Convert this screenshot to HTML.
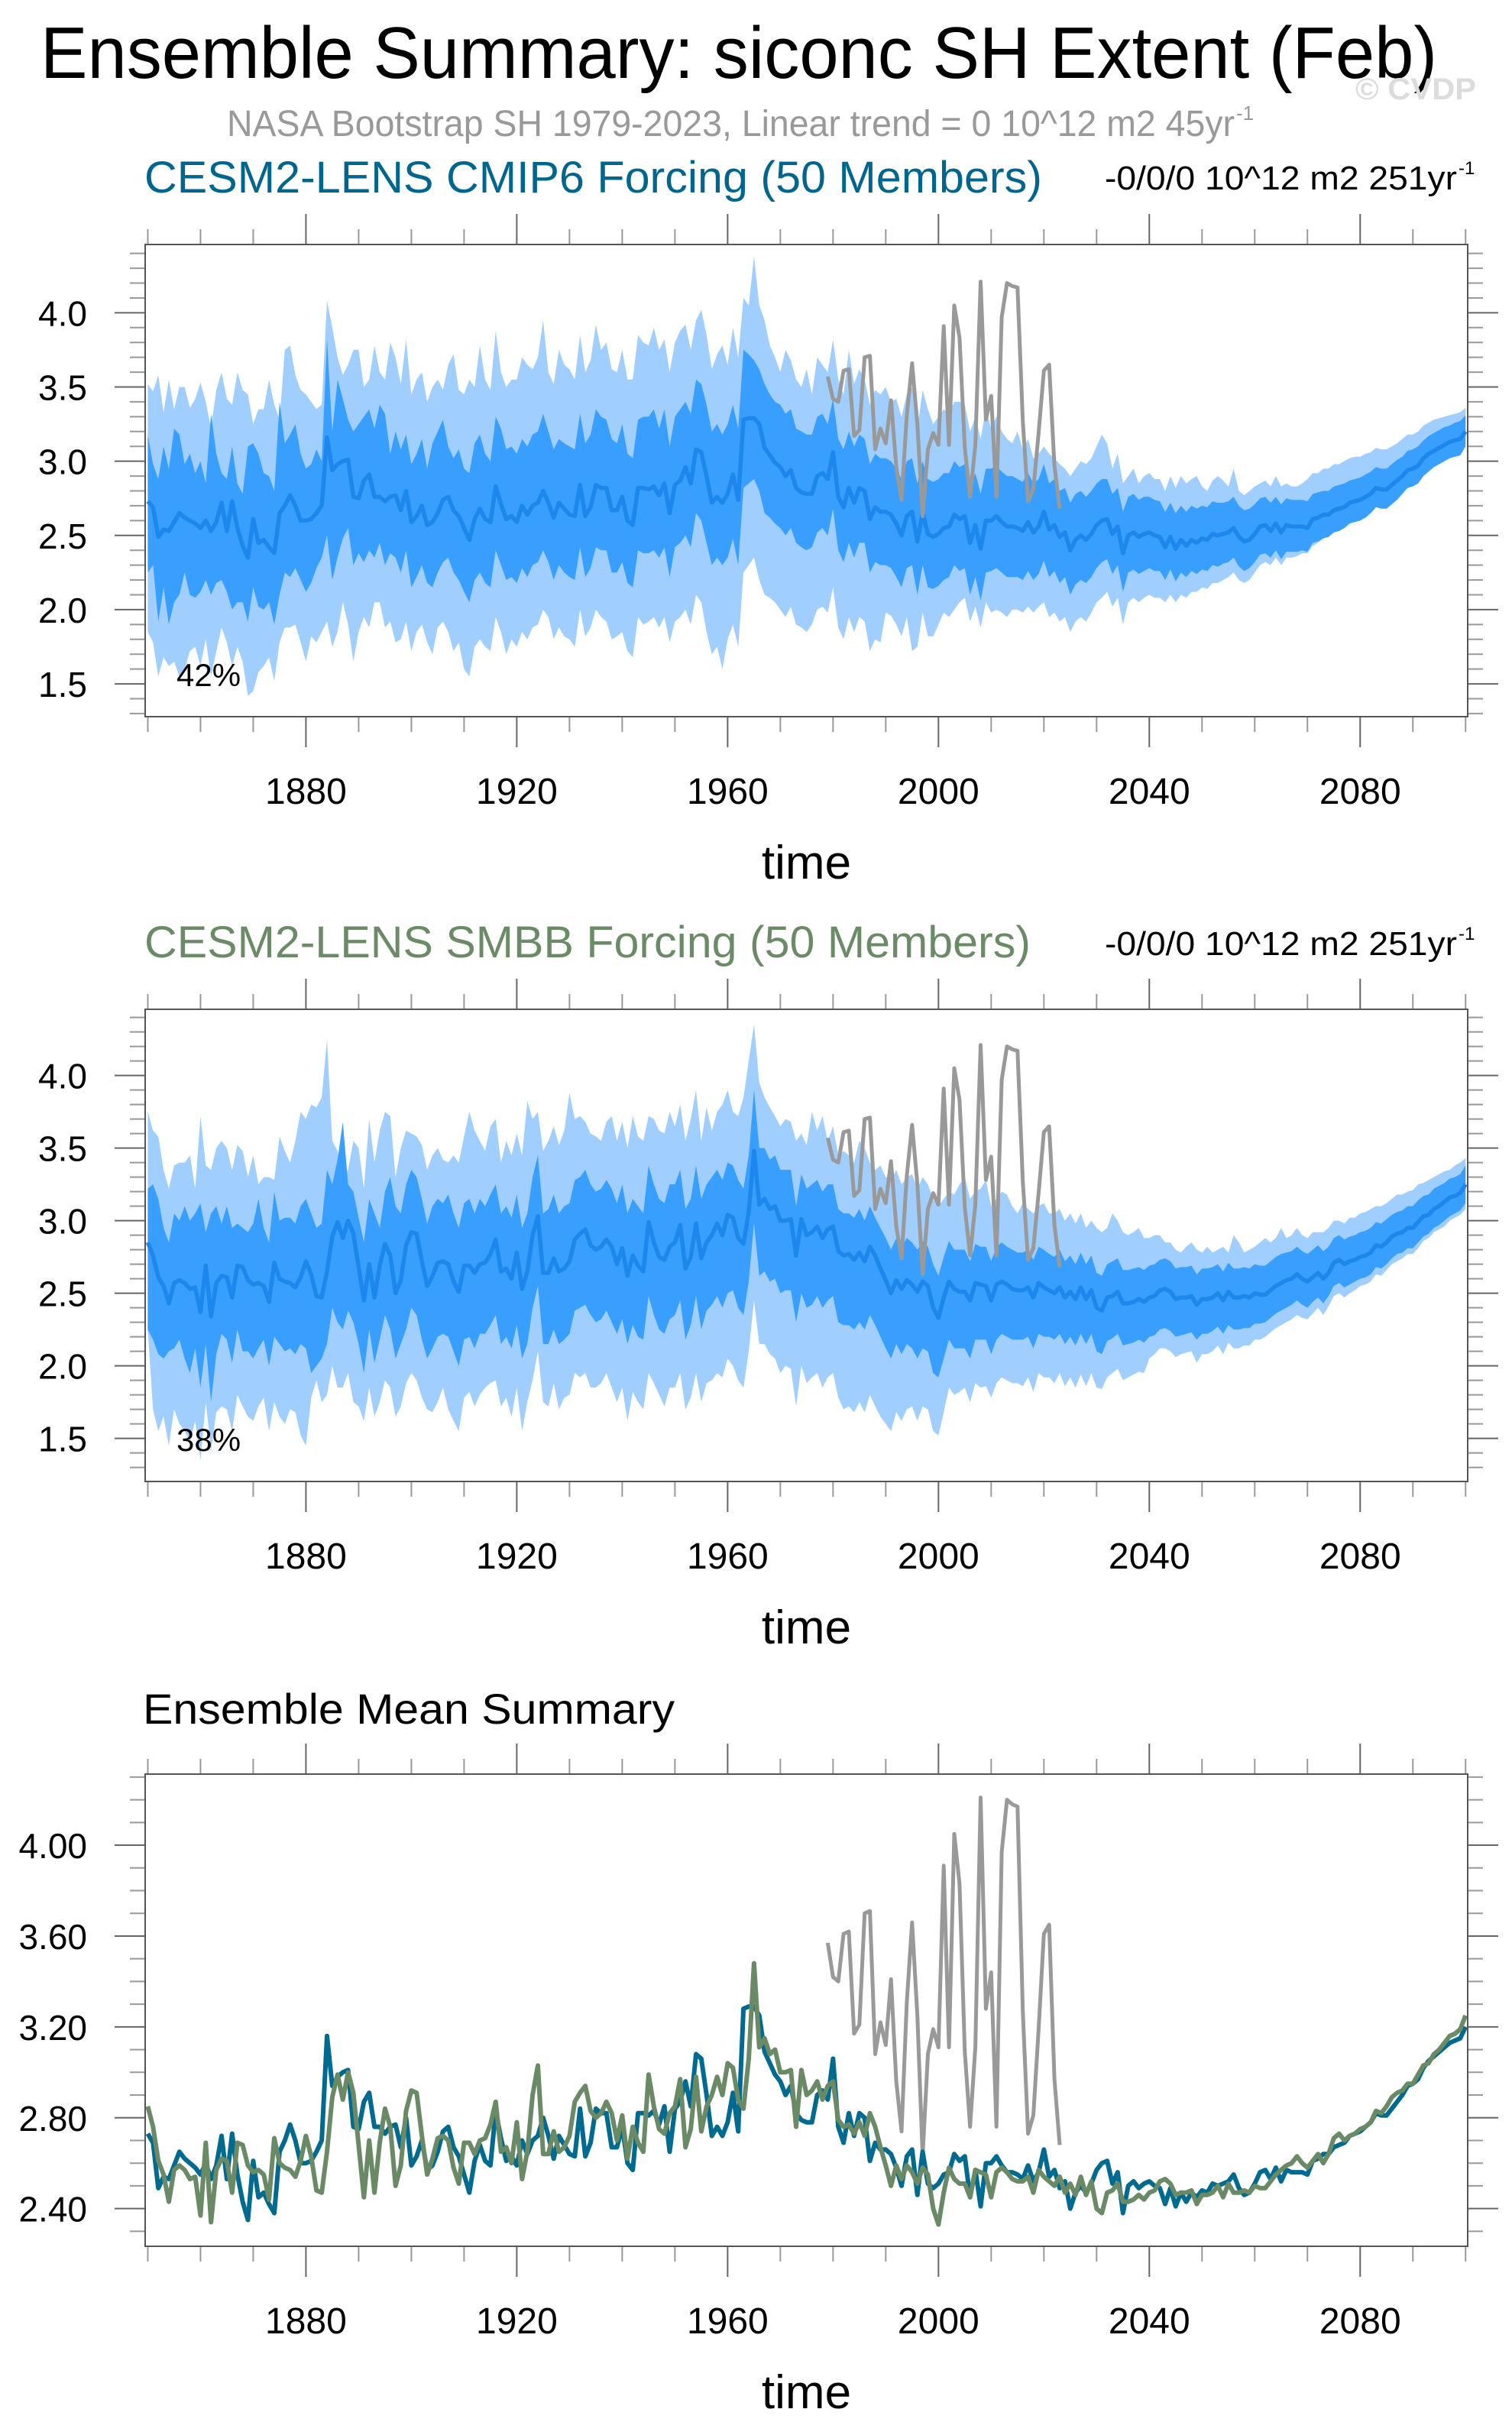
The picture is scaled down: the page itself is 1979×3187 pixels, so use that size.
<!DOCTYPE html>
<html><head><meta charset="utf-8"><title>Ensemble Summary: siconc SH Extent (Feb)</title>
<style>
html,body{margin:0;padding:0;background:#fff;}
svg{display:block;font-family:"Liberation Sans",Arial,sans-serif;}
</style></head>
<body>
<svg id="chart" width="1979" height="3187" viewBox="0 0 1979 3187" xmlns="http://www.w3.org/2000/svg">
<text x="53" y="102" font-size="96" textLength="1828" lengthAdjust="spacingAndGlyphs" fill="#000">Ensemble Summary: siconc SH Extent (Feb)</text>
<text x="1774" y="130" font-size="40" font-weight="bold" fill="#dcdcdc" textLength="158" lengthAdjust="spacingAndGlyphs">© CVDP</text>
<text x="297" y="178" font-size="48" fill="#999" textLength="1319" lengthAdjust="spacingAndGlyphs">NASA Bootstrap SH 1979-2023, Linear trend = 0 10^12 m2 45yr</text>
<text x="1618" y="157" font-size="26" fill="#999">-1</text>

<text x="189" y="252" font-size="58" fill="#00668f" textLength="1175" lengthAdjust="spacingAndGlyphs">CESM2-LENS CMIP6 Forcing (50 Members)</text>
<text x="1446" y="248" font-size="44" fill="#000" textLength="461" lengthAdjust="spacingAndGlyphs">-0/0/0 10^12 m2 251yr</text>
<text x="1909" y="228" font-size="24" fill="#000">-1</text>

<text x="189" y="1253" font-size="58" fill="#6b8b67" textLength="1160" lengthAdjust="spacingAndGlyphs">CESM2-LENS SMBB Forcing (50 Members)</text>
<text x="1446" y="1250" font-size="44" fill="#000" textLength="461" lengthAdjust="spacingAndGlyphs">-0/0/0 10^12 m2 251yr</text>
<text x="1909" y="1230" font-size="24" fill="#000">-1</text>

<text x="187" y="2256" font-size="56" fill="#000" textLength="696" lengthAdjust="spacingAndGlyphs">Ensemble Mean Summary</text>
<g id="layer"></g>
</svg>
<script>
const yearStart = 1850;
const xTickYears = [1850,1860,1870,1880,1890,1900,1910,1920,1930,1940,1950,1960,1970,1980,1990,2000,2010,2020,2030,2040,2050,2060,2070,2080,2090,2100];
const xTickLabels = ["1880","1920","1960","2000","2040","2080"];
const yTickLabelsP12 = ["1.5","2.0","2.5","3.0","3.5","4.0"];
const yTickLabelsP3 = ["2.40","2.80","3.20","3.60","4.00"];
const pctLabels = ["42%","38%"];

const obsStart = 1979;
const obsValues = [3.57,3.42,3.40,3.61,3.62,3.17,3.21,3.70,3.71,3.08,3.22,3.12,3.41,2.96,2.74,3.31,3.66,3.25,2.63,3.08,3.19,3.11,3.91,3.11,4.05,3.83,3.09,2.76,3.11,4.21,3.28,3.44,2.76,3.97,4.20,4.18,4.17,3.27,2.73,2.81,3.19,3.61,3.65,2.97,2.68];

const cmip6Mean = [2.73,2.69,2.49,2.54,2.53,2.59,2.65,2.62,2.60,2.58,
2.55,2.60,2.53,2.59,2.72,2.53,2.73,2.55,2.43,2.35,
2.61,2.45,2.47,2.42,2.38,2.65,2.70,2.77,2.70,2.60,
2.60,2.61,2.65,2.70,3.16,2.94,2.98,3.00,3.01,2.76,
2.75,2.87,2.91,2.76,2.76,2.73,2.76,2.77,2.67,2.80,
2.59,2.63,2.70,2.57,2.59,2.65,2.74,2.76,2.67,2.63,
2.55,2.47,2.61,2.68,2.61,2.59,2.83,2.71,2.61,2.63,
2.59,2.70,2.64,2.70,2.72,2.80,2.72,2.62,2.72,2.68,
2.64,2.63,2.84,2.63,2.69,2.84,2.82,2.82,2.67,2.67,
2.76,2.60,2.57,2.82,2.82,2.81,2.83,2.77,2.85,2.65,
2.84,2.87,2.96,2.85,3.08,3.06,2.90,2.72,2.76,2.72,
2.78,2.91,2.74,3.28,3.29,3.29,3.25,3.09,3.04,2.99,
2.96,2.90,2.94,2.82,2.79,2.78,2.78,2.90,2.92,2.88,
3.06,2.76,2.69,2.82,2.72,2.82,2.80,2.61,2.69,2.66,
2.66,2.64,2.58,2.50,2.63,2.66,2.46,2.65,2.51,2.49,
2.51,2.55,2.56,2.64,2.61,2.63,2.45,2.57,2.41,2.60,
2.60,2.63,2.59,2.56,2.56,2.55,2.53,2.59,2.52,2.56,
2.66,2.54,2.57,2.49,2.52,2.40,2.47,2.50,2.47,2.51,
2.57,2.60,2.61,2.51,2.56,2.38,2.50,2.52,2.49,2.51,
2.52,2.50,2.49,2.42,2.49,2.41,2.47,2.43,2.47,2.45,
2.48,2.47,2.51,2.50,2.51,2.52,2.55,2.49,2.46,2.47,
2.51,2.56,2.57,2.53,2.58,2.52,2.57,2.56,2.56,2.56,
2.55,2.61,2.62,2.64,2.64,2.67,2.68,2.69,2.72,2.73,
2.74,2.76,2.78,2.82,2.81,2.81,2.84,2.87,2.90,2.94,
2.95,2.97,3.02,3.05,3.07,3.09,3.11,3.13,3.14,3.15,
3.20];

const smbbMean = [2.85,2.76,2.61,2.55,2.43,2.57,2.59,2.57,2.53,2.54,
2.37,2.69,2.34,2.57,2.62,2.61,2.47,2.69,2.68,2.59,
2.56,2.57,2.55,2.44,2.71,2.60,2.58,2.57,2.54,2.61,
2.72,2.63,2.48,2.47,2.65,2.89,2.99,2.88,3.00,2.91,
2.68,2.45,2.70,2.47,2.69,2.84,2.76,2.50,2.59,2.83,
2.92,2.91,2.72,2.55,2.62,2.71,2.72,2.70,2.58,2.51,
2.69,2.69,2.64,2.70,2.71,2.77,2.87,2.65,2.67,2.60,
2.78,2.53,2.65,2.90,3.03,2.64,2.64,2.74,2.65,2.67,
2.72,2.87,2.91,2.94,2.83,2.80,2.82,2.87,2.82,2.70,
2.81,2.62,2.76,2.69,2.65,2.99,2.85,2.75,2.73,2.82,
2.85,2.97,2.67,2.75,2.98,2.74,2.85,2.90,2.98,2.90,
3.04,3.02,2.88,2.84,3.06,3.48,3.11,3.15,3.08,3.10,
3.00,3.00,3.01,2.76,3.01,2.90,2.92,2.96,2.88,2.94,
2.96,2.79,2.76,2.77,2.73,2.78,2.72,2.82,2.76,2.67,
2.59,2.50,2.59,2.53,2.59,2.56,2.51,2.58,2.55,2.40,
2.33,2.47,2.58,2.53,2.51,2.51,2.45,2.57,2.56,2.55,
2.45,2.56,2.58,2.56,2.53,2.52,2.52,2.54,2.47,2.57,
2.54,2.52,2.50,2.54,2.47,2.51,2.46,2.54,2.46,2.52,
2.40,2.38,2.47,2.48,2.51,2.43,2.43,2.44,2.46,2.44,
2.47,2.48,2.52,2.53,2.51,2.46,2.47,2.47,2.48,2.42,
2.46,2.46,2.47,2.50,2.45,2.51,2.47,2.47,2.48,2.47,
2.50,2.49,2.49,2.52,2.55,2.57,2.59,2.60,2.63,2.60,
2.58,2.61,2.64,2.60,2.64,2.71,2.73,2.70,2.72,2.73,
2.75,2.76,2.78,2.83,2.82,2.85,2.89,2.91,2.92,2.95,
2.95,2.99,3.03,3.04,3.08,3.10,3.13,3.16,3.17,3.19,
3.25];

const p1InnerHi = [3.18,2.98,2.88,3.10,2.95,3.22,3.18,2.98,3.05,2.92,
3.00,2.85,3.32,3.05,2.92,2.88,3.10,2.85,2.78,3.10,
3.12,3.05,2.92,2.90,2.80,3.40,3.12,3.18,3.25,3.05,
2.95,2.98,3.08,3.00,3.82,3.20,3.55,3.42,3.28,3.20,
3.25,3.30,3.35,3.22,3.38,3.32,3.05,3.20,3.08,3.18,
2.98,3.05,3.15,2.95,3.12,3.20,3.28,3.10,3.02,3.08,
2.95,2.92,3.12,3.18,3.05,3.00,3.30,3.22,3.08,3.10,
3.05,3.15,3.10,3.18,3.20,3.32,3.20,3.08,3.15,3.12,
3.10,3.08,3.32,3.12,3.18,3.35,3.30,3.28,3.15,3.12,
3.25,3.05,3.02,3.28,3.30,3.30,3.35,3.22,3.35,3.10,
3.30,3.35,3.40,3.32,3.55,3.52,3.38,3.20,3.25,3.18,
3.25,3.38,3.22,3.75,3.72,3.68,3.62,3.52,3.45,3.40,
3.38,3.32,3.35,3.22,3.20,3.18,3.18,3.30,3.32,3.25,
3.42,3.15,3.08,3.20,3.10,3.18,3.15,2.98,3.05,3.02,
3.02,3.00,2.95,2.88,3.00,3.02,2.85,3.00,2.88,2.86,
2.88,2.92,2.92,3.00,2.96,2.98,2.82,2.92,2.78,2.95,
2.95,2.97,2.93,2.90,2.90,2.88,2.86,2.92,2.85,2.88,
2.98,2.85,2.88,2.80,2.82,2.72,2.78,2.80,2.76,2.80,
2.85,2.88,2.88,2.78,2.82,2.66,2.76,2.78,2.74,2.76,
2.76,2.74,2.73,2.66,2.72,2.65,2.70,2.66,2.70,2.68,
2.70,2.69,2.73,2.72,2.72,2.73,2.76,2.70,2.67,2.68,
2.71,2.75,2.76,2.72,2.76,2.71,2.75,2.74,2.74,2.74,
2.73,2.78,2.79,2.80,2.80,2.83,2.84,2.85,2.87,2.88,
2.89,2.91,2.93,2.96,2.95,2.95,2.98,3.01,3.03,3.07,
3.08,3.10,3.14,3.17,3.19,3.21,3.23,3.24,3.26,3.27,
3.31];

const p1InnerLo = [2.25,2.30,1.92,2.15,1.90,2.05,2.10,2.25,2.10,2.08,
2.12,2.20,2.10,2.18,2.20,2.12,2.00,2.05,2.05,1.92,
2.15,2.02,2.00,2.05,1.90,2.10,2.25,2.22,2.28,2.20,
2.12,2.18,2.28,2.35,2.50,2.20,2.35,2.48,2.55,2.30,
2.38,2.32,2.40,2.35,2.45,2.30,2.38,2.35,2.25,2.40,
2.15,2.22,2.30,2.18,2.15,2.25,2.32,2.35,2.25,2.20,
2.12,2.05,2.20,2.25,2.18,2.15,2.40,2.30,2.20,2.22,
2.18,2.28,2.22,2.30,2.32,2.40,2.32,2.20,2.30,2.25,
2.22,2.20,2.42,2.22,2.28,2.42,2.40,2.40,2.25,2.25,
2.32,2.18,2.15,2.40,2.38,2.38,2.40,2.35,2.42,2.22,
2.42,2.45,2.50,2.42,2.65,2.60,2.45,2.30,2.35,2.30,
2.35,2.48,2.30,2.82,2.85,2.88,2.80,2.65,2.62,2.58,
2.55,2.50,2.55,2.45,2.42,2.40,2.42,2.52,2.55,2.50,
2.68,2.40,2.32,2.45,2.35,2.45,2.45,2.25,2.32,2.30,
2.30,2.28,2.22,2.15,2.28,2.30,2.10,2.30,2.15,2.14,
2.16,2.20,2.22,2.30,2.26,2.28,2.10,2.22,2.06,2.25,
2.26,2.28,2.25,2.22,2.22,2.22,2.20,2.26,2.20,2.24,
2.33,2.22,2.26,2.18,2.22,2.10,2.17,2.20,2.18,2.22,
2.28,2.32,2.34,2.24,2.30,2.12,2.25,2.27,2.24,2.26,
2.28,2.26,2.26,2.20,2.27,2.19,2.25,2.22,2.26,2.24,
2.27,2.26,2.30,2.29,2.31,2.32,2.35,2.29,2.26,2.28,
2.32,2.37,2.38,2.35,2.40,2.34,2.39,2.39,2.39,2.40,
2.39,2.45,2.46,2.48,2.49,2.52,2.53,2.55,2.58,2.59,
2.60,2.62,2.65,2.69,2.68,2.68,2.71,2.74,2.78,2.82,
2.83,2.85,2.90,2.93,2.96,2.98,3.00,3.02,3.03,3.04,
3.10];

const p1OuterHi = [3.52,3.47,3.58,3.33,3.55,3.35,3.50,3.50,3.36,3.42,
3.53,3.40,3.22,3.48,3.60,3.42,3.38,3.60,3.48,3.45,
3.25,3.35,3.35,3.55,3.38,3.28,3.75,3.78,3.58,3.48,
3.45,3.40,3.35,3.38,4.08,3.90,3.70,3.58,3.65,3.75,
3.75,3.50,3.55,3.78,3.60,3.55,3.80,3.70,3.52,3.82,
3.45,3.55,3.60,3.40,3.50,3.55,3.48,3.65,3.72,3.48,
3.45,3.55,3.50,3.78,3.55,3.48,3.88,3.60,3.50,3.55,
3.55,3.70,3.65,3.62,3.70,3.95,3.60,3.52,3.75,3.65,
3.62,3.55,3.85,3.60,3.68,3.92,3.75,3.80,3.62,3.60,
3.75,3.55,3.55,3.85,3.80,3.78,3.90,3.75,3.82,3.60,
3.80,3.88,3.92,3.75,3.95,4.02,3.85,3.62,3.72,3.78,
3.65,3.90,3.70,4.10,4.05,4.38,4.05,3.95,3.78,3.70,
3.60,3.75,3.68,3.55,3.50,3.62,3.45,3.70,3.65,3.60,
3.82,3.55,3.45,3.75,3.52,3.62,3.55,3.38,3.48,3.45,
3.50,3.40,3.42,3.30,3.45,3.50,3.22,3.48,3.35,3.25,
3.30,3.35,3.32,3.40,3.40,3.38,3.20,3.30,3.15,3.35,
3.22,3.30,3.20,3.15,3.12,3.20,3.08,3.15,3.02,3.05,
3.10,3.05,3.02,2.98,2.95,2.90,2.95,3.00,2.98,3.02,
3.10,3.18,3.12,2.95,3.05,2.85,2.90,2.95,2.85,2.90,
2.92,2.88,2.88,2.80,2.90,2.82,2.90,2.85,2.88,2.90,
2.83,2.80,2.87,2.90,2.87,2.83,2.95,2.80,2.77,2.80,
2.83,2.85,2.87,2.83,2.90,2.83,2.85,2.83,2.83,2.85,
2.88,2.92,2.92,2.95,2.95,2.98,2.98,3.00,3.02,3.03,
3.03,3.05,3.06,3.09,3.08,3.08,3.10,3.12,3.15,3.18,
3.18,3.20,3.24,3.26,3.28,3.29,3.30,3.31,3.32,3.33,
3.36];

const p1OuterLo = [1.85,1.78,1.55,1.68,1.62,1.65,1.55,1.60,1.72,1.75,
1.62,1.80,1.55,1.72,1.88,1.78,1.62,1.75,1.65,1.42,
1.45,1.58,1.62,1.68,1.52,1.78,1.88,1.88,1.90,1.78,
1.65,1.82,1.78,1.85,1.92,1.75,1.85,2.05,1.90,1.65,
1.85,1.95,1.88,2.05,2.05,1.88,1.92,1.78,1.80,1.92,
1.72,1.85,1.90,1.78,1.70,1.88,1.92,1.85,1.72,1.78,
1.60,1.55,1.75,1.80,1.75,1.72,1.95,1.85,1.70,1.80,
1.75,1.85,1.80,1.88,1.90,2.00,1.95,1.80,1.88,1.82,
1.80,1.75,2.00,1.82,1.88,2.00,1.95,1.92,1.80,1.82,
1.85,1.72,1.68,1.95,1.90,1.92,1.95,1.88,1.95,1.78,
1.92,1.95,2.00,1.90,2.10,2.05,1.85,1.70,1.75,1.60,
1.80,1.90,1.75,2.25,2.30,2.35,2.20,2.10,2.08,2.05,
2.00,1.95,2.02,1.90,1.88,1.85,1.90,2.00,2.02,1.98,
2.15,1.88,1.80,1.95,1.85,1.95,1.92,1.72,1.80,1.78,
1.98,1.96,1.90,1.82,1.95,1.72,1.75,1.98,1.82,1.82,
1.90,1.98,1.95,2.00,2.05,2.08,1.92,2.02,1.88,2.05,
1.98,2.00,1.98,1.95,2.00,2.00,1.98,2.02,1.98,2.02,
2.05,1.95,1.98,1.92,1.95,1.85,1.92,1.95,1.92,1.98,
2.05,2.08,2.12,2.02,2.08,1.90,2.05,2.08,2.05,2.08,
2.10,2.08,2.08,2.05,2.10,2.05,2.10,2.08,2.12,2.12,
2.15,2.14,2.18,2.18,2.20,2.22,2.25,2.20,2.18,2.20,
2.25,2.30,2.32,2.30,2.35,2.30,2.35,2.35,2.36,2.38,
2.38,2.43,2.45,2.48,2.50,2.53,2.55,2.56,2.60,2.62,
2.63,2.65,2.68,2.72,2.72,2.72,2.75,2.78,2.82,2.86,
2.87,2.90,2.95,2.98,3.00,3.02,3.03,3.05,3.06,3.07,
3.12];

const p2OuterHi = [3.75,3.62,3.58,3.35,3.22,3.38,3.40,3.40,3.45,3.22,
3.72,3.38,3.35,3.50,3.55,3.50,3.35,3.52,3.48,3.30,
3.45,3.25,3.30,3.30,3.28,3.58,3.48,3.40,3.55,3.75,
3.70,3.80,3.78,3.85,4.25,3.55,3.48,3.30,3.35,3.55,
3.50,3.22,3.70,3.40,3.62,3.75,3.72,3.30,3.50,3.62,
3.60,3.58,3.52,3.35,3.45,3.50,3.42,3.40,3.45,3.40,
3.58,3.75,3.62,3.55,3.48,3.65,3.70,3.40,3.55,3.45,
3.60,3.45,3.82,3.70,3.75,3.48,3.55,3.65,3.52,3.62,
3.88,3.70,3.72,3.68,3.60,3.58,3.55,3.68,3.72,3.55,
3.68,3.50,3.72,3.58,3.55,3.72,3.70,3.62,3.60,3.75,
3.65,3.80,3.55,3.70,3.90,3.55,3.78,3.62,3.75,3.80,
3.90,3.75,3.72,3.85,4.10,4.35,3.95,3.85,3.78,3.72,
3.65,3.70,3.68,3.55,3.60,3.52,3.75,3.62,3.72,3.55,
3.65,3.45,3.48,3.45,3.40,3.55,3.50,3.40,3.35,3.38,
3.30,3.28,3.35,3.25,3.30,3.32,3.22,3.30,3.25,3.15,
3.10,3.15,3.20,3.18,3.25,3.30,3.15,3.20,3.22,3.28,
3.10,3.15,3.20,3.18,3.10,3.05,3.12,3.08,3.05,3.10,
3.12,3.05,3.05,3.08,3.00,3.05,2.98,3.05,2.95,3.00,
2.95,2.92,2.95,3.05,3.00,2.92,2.90,2.92,2.95,2.88,
2.88,2.90,2.90,2.85,2.85,2.80,2.78,2.82,2.85,2.80,
2.78,2.82,2.78,2.80,2.82,2.78,2.90,2.85,2.78,2.80,
2.82,2.85,2.88,2.85,2.88,2.95,2.88,2.90,2.95,2.90,
2.88,2.92,2.92,2.92,2.95,3.00,3.00,2.98,3.02,3.02,
3.05,3.06,3.08,3.10,3.10,3.12,3.15,3.18,3.18,3.20,
3.21,3.25,3.26,3.28,3.30,3.32,3.34,3.35,3.38,3.40,
3.43];

const p2InnerHi = [3.22,3.25,3.15,2.95,2.85,3.05,3.00,3.10,3.00,3.05,
3.12,2.92,3.05,3.10,2.98,3.10,2.95,2.98,2.95,2.92,
2.98,3.15,2.95,2.85,3.20,3.00,3.02,3.02,2.98,3.10,
3.15,3.05,2.95,2.98,3.35,3.25,3.42,3.68,3.25,3.20,
3.02,2.85,3.15,3.05,2.95,3.20,3.30,3.10,3.05,3.25,
3.35,3.30,3.15,2.98,3.10,3.15,3.12,3.18,3.05,2.95,
3.12,3.15,3.05,3.15,3.10,3.18,3.25,3.05,3.10,3.02,
3.18,2.95,3.05,3.30,3.45,3.05,3.08,3.18,3.05,3.10,
3.12,3.28,3.30,3.35,3.25,3.20,3.22,3.28,3.22,3.12,
3.25,3.05,3.15,3.10,3.05,3.38,3.25,3.15,3.12,3.25,
3.25,3.35,3.08,3.15,3.38,3.15,3.25,3.30,3.35,3.28,
3.40,3.38,3.28,3.22,3.45,3.90,3.50,3.50,3.42,3.45,
3.35,3.35,3.35,3.10,3.32,3.22,3.25,3.28,3.20,3.25,
3.25,3.08,3.05,3.05,3.02,3.08,3.00,3.10,3.02,2.95,
2.88,2.80,2.88,2.82,2.88,2.85,2.80,2.86,2.82,2.70,
2.62,2.75,2.86,2.80,2.80,2.80,2.72,2.84,2.82,2.82,
2.72,2.82,2.85,2.82,2.80,2.78,2.78,2.80,2.73,2.82,
2.80,2.77,2.75,2.80,2.72,2.76,2.70,2.78,2.70,2.76,
2.64,2.62,2.70,2.72,2.74,2.66,2.66,2.67,2.68,2.66,
2.69,2.70,2.73,2.74,2.72,2.67,2.68,2.68,2.69,2.63,
2.67,2.67,2.68,2.70,2.65,2.71,2.67,2.67,2.68,2.67,
2.70,2.69,2.69,2.72,2.75,2.77,2.78,2.79,2.82,2.79,
2.77,2.80,2.83,2.79,2.82,2.88,2.90,2.87,2.89,2.90,
2.92,2.93,2.95,2.99,2.98,3.01,3.04,3.06,3.07,3.10,
3.10,3.14,3.17,3.18,3.22,3.24,3.26,3.29,3.30,3.32,
3.38];

const p2InnerLo = [2.25,2.18,2.08,2.05,2.10,2.12,2.18,2.05,1.95,2.12,
1.85,2.15,1.75,2.08,2.22,2.18,2.02,2.25,2.10,2.10,
2.05,2.12,2.18,2.00,2.20,2.15,2.10,2.12,2.08,2.15,
2.12,1.95,2.00,2.05,2.15,2.40,2.30,2.25,2.38,2.30,
2.15,1.95,2.25,2.02,2.18,2.35,2.25,2.05,2.15,2.25,
2.40,2.35,2.18,2.05,2.12,2.20,2.22,2.20,2.10,2.00,
2.18,2.20,2.12,2.22,2.22,2.28,2.35,2.15,2.20,2.12,
2.28,2.05,2.15,2.40,2.55,2.15,2.15,2.25,2.15,2.18,
2.22,2.38,2.40,2.42,2.35,2.30,2.32,2.38,2.30,2.22,
2.32,2.15,2.28,2.20,2.18,2.48,2.35,2.25,2.22,2.32,
2.35,2.45,2.18,2.28,2.48,2.25,2.38,2.42,2.48,2.40,
2.50,2.52,2.40,2.35,2.58,2.98,2.62,2.65,2.58,2.60,
2.50,2.52,2.52,2.30,2.50,2.40,2.42,2.48,2.40,2.45,
2.48,2.30,2.28,2.28,2.25,2.30,2.25,2.35,2.28,2.20,
2.12,2.05,2.15,2.08,2.15,2.12,2.05,2.12,2.10,1.95,
1.92,2.05,2.18,2.12,2.12,2.12,2.05,2.18,2.18,2.18,
2.08,2.18,2.22,2.20,2.18,2.18,2.18,2.20,2.12,2.22,
2.20,2.20,2.18,2.22,2.15,2.20,2.14,2.22,2.15,2.22,
2.10,2.08,2.17,2.19,2.22,2.14,2.15,2.16,2.18,2.16,
2.20,2.21,2.25,2.26,2.24,2.20,2.21,2.22,2.23,2.18,
2.22,2.22,2.24,2.27,2.22,2.28,2.25,2.25,2.26,2.26,
2.29,2.29,2.30,2.33,2.36,2.38,2.40,2.42,2.45,2.42,
2.40,2.44,2.47,2.43,2.48,2.55,2.57,2.54,2.56,2.58,
2.60,2.61,2.63,2.68,2.67,2.70,2.74,2.77,2.78,2.81,
2.81,2.85,2.89,2.91,2.95,2.97,3.00,3.03,3.05,3.07,
3.12];

const p2OuterLo = [2.25,1.70,1.55,1.65,1.45,1.70,1.60,1.55,1.48,1.62,
1.35,1.75,1.42,1.68,1.72,1.70,1.55,1.80,1.72,1.65,
1.62,1.72,1.78,1.55,1.75,1.65,1.60,1.70,1.68,1.52,
1.45,1.78,1.90,1.75,1.80,2.00,1.85,1.85,1.95,1.75,
1.72,1.62,1.85,1.65,1.75,1.90,1.85,1.65,1.72,1.88,
1.95,1.90,1.78,1.70,1.68,1.75,1.85,1.70,1.62,1.55,
1.78,1.82,1.72,1.80,1.85,1.88,1.90,1.72,1.78,1.65,
1.85,1.55,1.75,1.90,2.10,1.75,1.72,1.88,1.70,1.78,
1.80,1.95,1.92,1.95,1.85,1.85,1.88,1.95,1.85,1.75,
1.85,1.62,1.82,1.75,1.70,1.95,1.88,1.80,1.72,1.85,
1.85,1.95,1.70,1.78,1.95,1.75,1.88,1.90,1.95,1.92,
2.05,2.00,1.90,1.85,2.10,2.45,2.15,2.15,2.08,2.05,
1.95,2.00,1.98,1.72,2.00,1.88,1.92,1.95,1.85,1.92,
1.95,1.78,1.70,1.72,1.68,1.75,1.68,1.80,1.72,1.65,
1.60,1.55,1.68,1.62,1.70,1.72,1.62,1.72,1.70,1.55,
1.52,1.68,1.85,1.80,1.82,1.85,1.75,1.88,1.85,1.86,
1.78,1.88,1.92,1.90,1.88,1.88,1.86,1.92,1.82,1.95,
1.92,1.92,1.88,1.95,1.86,1.92,1.85,1.94,1.86,1.95,
1.85,1.84,1.92,1.95,1.98,1.90,1.92,1.94,1.96,1.95,
2.05,2.08,2.12,2.12,2.10,2.06,2.08,2.09,2.10,2.02,
2.08,2.08,2.10,2.14,2.08,2.16,2.12,2.12,2.14,2.14,
2.18,2.18,2.20,2.23,2.26,2.28,2.30,2.32,2.35,2.33,
2.32,2.36,2.40,2.35,2.41,2.48,2.50,2.47,2.50,2.52,
2.55,2.56,2.58,2.63,2.62,2.66,2.70,2.72,2.74,2.77,
2.77,2.81,2.86,2.88,2.92,2.94,2.96,3.00,3.02,3.04,
3.08];

// ---------- layout (not data) ----------
const NS = "http://www.w3.org/2000/svg";
const layer = document.getElementById("layer");
const BOX_L = 190, BOX_R = 1921, X_MIN = 1849.5, X_MAX = 2100.4;
function xScale(yr){ return BOX_L + (yr - X_MIN) / (X_MAX - X_MIN) * (BOX_R - BOX_L); }
function mk(tag, attrs, parent){
  const el = document.createElementNS(NS, tag);
  for (const k in attrs) el.setAttribute(k, attrs[k]);
  (parent || layer).appendChild(el);
  return el;
}
function makeY(top, bottom, vmin, vmax){
  return v => bottom - (v - vmin) / (vmax - vmin) * (bottom - top);
}
function linePoints(arr, start, y){
  return arr.map((v,i) => xScale(start + i).toFixed(1) + "," + y(v).toFixed(1)).join(" ");
}
function bandPoints(hi, lo, start, y){
  const a = hi.map((v,i) => xScale(start + i).toFixed(1) + "," + y(v).toFixed(1));
  const b = lo.map((v,i) => xScale(start + i).toFixed(1) + "," + y(v).toFixed(1)).reverse();
  return a.concat(b).join(" ");
}
function axes(g, top, bottom, y, vmin, vmax, majorVals, majorLabels, minorStep){
  // x ticks (top & bottom)
  xTickYears.forEach(yr => {
    const x = xScale(yr);
    const major = xTickLabels.indexOf(String(yr)) >= 0;
    const len = major ? 40 : 20;
    const t1 = mk("line", {x1:x, x2:x, y1:top, y2:top-len, stroke: major?"#666":"#999", "stroke-width":2}, g);
    
    
    const t2 = mk("line", {x1:x, x2:x, y1:bottom, y2:bottom+len, stroke: major?"#666":"#999", "stroke-width":2}, g);
    
    
  });
  xTickLabels.forEach(lbl => {
    const t = mk("text", {x:xScale(+lbl), y:bottom+114, "font-size":48, "text-anchor":"middle", fill:"#000"}, g);
    t.textContent = lbl;
    
    
  });
  const nMin = Math.ceil(vmin / minorStep - 1e-6), nMax = Math.floor(vmax / minorStep + 1e-6);
  for (let n = nMin; n <= nMax; n++){
    const v = n * minorStep, yy = y(v);
    const major = majorVals.some(m => Math.abs(m - v) < 1e-6);
    const len = major ? 40 : 20;
    const a = mk("line", {x1:BOX_L, x2:BOX_L-len, y1:yy, y2:yy, stroke: major?"#666":"#999", "stroke-width":2}, g);
    
    
    const b = mk("line", {x1:BOX_R, x2:BOX_R+len, y1:yy, y2:yy, stroke: major?"#666":"#999", "stroke-width":2}, g);
    
    
  }
  majorLabels.forEach((lbl,i) => {
    const t = mk("text", {x:114, y:y(majorVals[i])+17, "font-size":46, "text-anchor":"end", fill:"#000"}, g);
    t.textContent = lbl;
    
    
  });
  const fr = mk("rect", {x:BOX_L, y:top, width:BOX_R-BOX_L, height:bottom-top, fill:"none", stroke:"#555", "stroke-width":2}, g);
  
  
  const tl = mk("text", {x:(BOX_L+BOX_R)/2, y:bottom+212, "font-size":62, "text-anchor":"middle", fill:"#000"}, g);
  tl.textContent = "time";
  
  
}
function spreadPanel(name, top, bottom, vmin, vmax, mean, iHi, iLo, oHi, oLo, pct){
  const g = mk("g", {});
  
  
  const y = makeY(top, bottom, vmin, vmax);
  const clipId = name + "-clip";
  const cp = mk("clipPath", {id:clipId}, g);
  mk("rect", {x:BOX_L, y:top, width:BOX_R-BOX_L, height:bottom-top}, cp);
  const pg = mk("g", {"clip-path":"url(#"+clipId+")"}, g);
  const ob = mk("polygon", {points:bandPoints(oHi, oLo, yearStart, y), fill:"#a0cfff", stroke:"none"}, pg);
  
  
  const ib = mk("polygon", {points:bandPoints(iHi, iLo, yearStart, y), fill:"#399fff", stroke:"none"}, pg);
  
  
  const ml = mk("polyline", {points:linePoints(mean, yearStart, y), fill:"none", stroke:"#1e87ee", "stroke-width":5.5, "stroke-linejoin":"round"}, pg);
  
  
  const obl = mk("polyline", {points:linePoints(obsValues, obsStart, y), fill:"none", stroke:"#999", "stroke-width":5, "stroke-linejoin":"round"}, pg);
  
  
  axes(g, top, bottom, y, vmin, vmax, [1.5,2.0,2.5,3.0,3.5,4.0], yTickLabelsP12, 0.1);
  const pt = mk("text", {x:231, y:bottom-40, "font-size":42, fill:"#000"}, g);
  pt.textContent = pct;
  
  
}
spreadPanel("cmip6-panel", 320, 938, 1.279, 4.46, cmip6Mean, p1InnerHi, p1InnerLo, p1OuterHi, p1OuterLo, pctLabels[0]);
spreadPanel("smbb-panel", 1321, 1939, 1.203, 4.456, smbbMean, p2InnerHi, p2InnerLo, p2OuterHi, p2OuterLo, pctLabels[1]);

(function(){
  const top = 2322, bottom = 2940, vmin = 2.234, vmax = 4.313;
  const g = mk("g", {});
  
  
  const y = makeY(top, bottom, vmin, vmax);
  const cp = mk("clipPath", {id:"p3-clip"}, g);
  mk("rect", {x:BOX_L, y:top, width:BOX_R-BOX_L, height:bottom-top}, cp);
  const pg = mk("g", {"clip-path":"url(#p3-clip)"}, g);
  const o = mk("polyline", {points:linePoints(obsValues, obsStart, y), fill:"none", stroke:"#999", "stroke-width":5, "stroke-linejoin":"round"}, pg);
  
  
  const b = mk("polyline", {points:linePoints(cmip6Mean, yearStart, y), fill:"none", stroke:"#006a91", "stroke-width":6, "stroke-linejoin":"round"}, pg);
  
  
  const gr = mk("polyline", {points:linePoints(smbbMean, yearStart, y), fill:"none", stroke:"#6a8a66", "stroke-width":6, "stroke-linejoin":"round"}, pg);
  
  
  axes(g, top, bottom, y, vmin, vmax, [2.4,2.8,3.2,3.6,4.0], yTickLabelsP3, 0.1);
})();
</script>
</body></html>
